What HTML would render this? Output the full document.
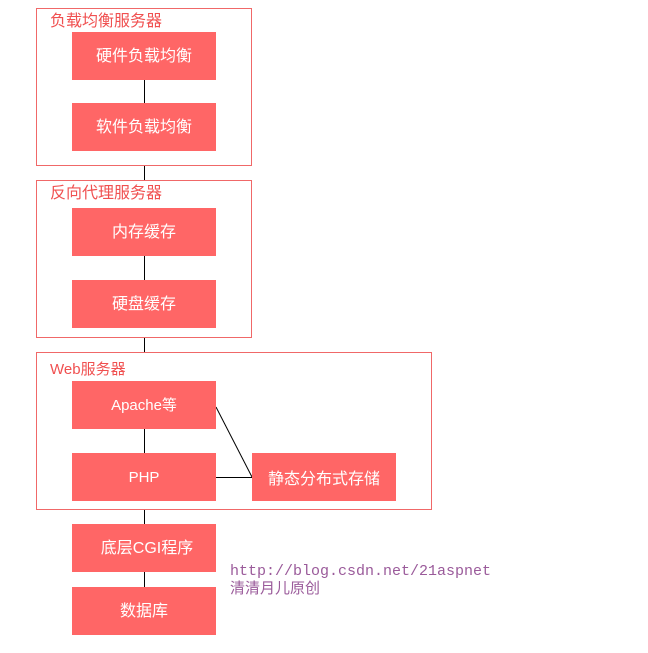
<!DOCTYPE html>
<html><head><meta charset="utf-8"><style>
body{margin:0;background:#fff;width:648px;height:648px;overflow:hidden}
svg text{font-family:"Liberation Sans","Noto Sans CJK SC",sans-serif}
svg text.mono{font-family:"Liberation Mono",monospace}
</style></head><body>
<svg width="648" height="648" xmlns="http://www.w3.org/2000/svg">
<g fill="none" stroke="#f06868" stroke-width="1">
<rect x="36.5" y="8.5" width="215" height="157"/>
<rect x="36.5" y="180.5" width="215" height="157"/>
<rect x="36.5" y="352.5" width="395" height="157"/>
</g>
<g stroke="#000" stroke-width="1">
<line x1="144.5" y1="80" x2="144.5" y2="103"/>
<line x1="144.5" y1="166" x2="144.5" y2="180"/>
<line x1="144.5" y1="256" x2="144.5" y2="280"/>
<line x1="144.5" y1="338" x2="144.5" y2="352"/>
<line x1="144.5" y1="429" x2="144.5" y2="453"/>
<line x1="144.5" y1="510" x2="144.5" y2="524"/>
<line x1="144.5" y1="572" x2="144.5" y2="587"/>
<line x1="216" y1="477.5" x2="252" y2="477.5"/>
<line x1="216" y1="407" x2="252" y2="477"/>
</g>
<g fill="#ff6666">
<rect x="72" y="32" width="144" height="48"/>
<rect x="72" y="103" width="144" height="48"/>
<rect x="72" y="208" width="144" height="48"/>
<rect x="72" y="280" width="144" height="48"/>
<rect x="72" y="381" width="144" height="48"/>
<rect x="72" y="453" width="144" height="48"/>
<rect x="252" y="453" width="144" height="48"/>
<rect x="72" y="524" width="144" height="48"/>
<rect x="72" y="587" width="144" height="48"/>
</g>
<g fill="#f05050" font-size="16">
<text x="50" y="26">负载均衡服务器</text>
<text x="50" y="198">反向代理服务器</text>
<text x="50" y="374" font-size="15">Web服务器</text>
</g>
<g fill="#fff" font-size="16" text-anchor="middle">
<text x="144" y="61">硬件负载均衡</text>
<text x="144" y="132">软件负载均衡</text>
<text x="144" y="237">内存缓存</text>
<text x="144" y="309">硬盘缓存</text>
<text x="144" y="410" font-size="15">Apache等</text>
<text x="144" y="482" font-size="15">PHP</text>
<text x="324" y="484">静态分布式存储</text>
<text x="147" y="553">底层CGI程序</text>
<text x="144" y="616">数据库</text>
</g>
<g fill="#9a5a9a" font-size="15">
<text class="mono" x="230" y="575">http://blog.csdn.net/21aspnet</text>
<text x="230" y="593">清清月儿原创</text>
</g>
</svg>
</body></html>
